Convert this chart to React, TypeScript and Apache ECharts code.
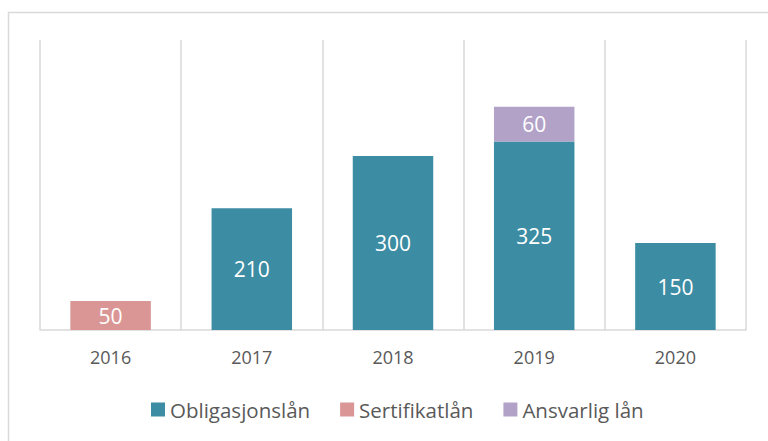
import React, { useEffect, useRef } from "react";
import * as echarts from "echarts";

const categories = ["2016", "2017", "2018", "2019", "2020"];
const obligasjonslan = [null, 210, 300, 325, 150];
const sertifikatlan = [50, null, null, null, null];
const ansvarligLan = [null, null, null, 60, null];

const FONT = "'Open Sans', sans-serif";

export default function App() {
  const ref = useRef<HTMLDivElement>(null);
  useEffect(() => {
    if (!ref.current) return;
    const chart = echarts.init(ref.current, null, { renderer: "svg" });
    const label = {
      show: true,
      position: "inside",
      color: "#ffffff",
      fontSize: 21,
      fontFamily: FONT,
    };
    chart.setOption({
      animation: false,
      backgroundColor: "#ffffff",
      graphic: [
        {
          type: "rect",
          shape: { x: 8.5, y: 12.5, width: 800, height: 500 },
          style: { fill: "none", stroke: "#d9d9d9", lineWidth: 1.5 },
          silent: true,
        },
      ],
      grid: { left: 40, right: 22, top: 40, bottom: 111 },
      legend: {
        bottom: 16,
        left: 146,
        icon: "rect",
        itemWidth: 14,
        itemHeight: 14,
        itemGap: 30,
        textStyle: { fontSize: 20.5, color: "#595959", fontFamily: FONT },
        data: ["Obligasjonslån", "Sertifikatlån", "Ansvarlig lån"],
      },
      xAxis: {
        type: "category",
        data: categories,
        axisLine: { show: true, lineStyle: { color: "#d9d9d9", width: 1.5 } },
        axisTick: { show: false },
        splitLine: { show: true, lineStyle: { color: "#d9d9d9", width: 1.5 } },
        axisLabel: {
          color: "#595959",
          fontSize: 18,
          fontFamily: FONT,
          margin: 18,
        },
      },
      yAxis: {
        type: "value",
        min: 0,
        max: 500,
        show: false,
        splitLine: { show: false },
      },
      series: [
        {
          name: "Obligasjonslån",
          type: "bar",
          stack: "total",
          data: obligasjonslan,
          barWidth: "57%",
          itemStyle: { color: "#3c8ca3" },
          label,
        },
        {
          name: "Sertifikatlån",
          type: "bar",
          stack: "total",
          data: sertifikatlan,
          barWidth: "57%",
          itemStyle: { color: "#da9694" },
          label,
        },
        {
          name: "Ansvarlig lån",
          type: "bar",
          stack: "total",
          data: ansvarligLan,
          barWidth: "57%",
          itemStyle: { color: "#b3a2c7" },
          label,
        },
      ],
    });
    return () => chart.dispose();
  }, []);
  return (
    <div
      ref={ref}
      style={{ position: "fixed", left: 0, top: 0, width: 768, height: 441 }}
    />
  );
}
